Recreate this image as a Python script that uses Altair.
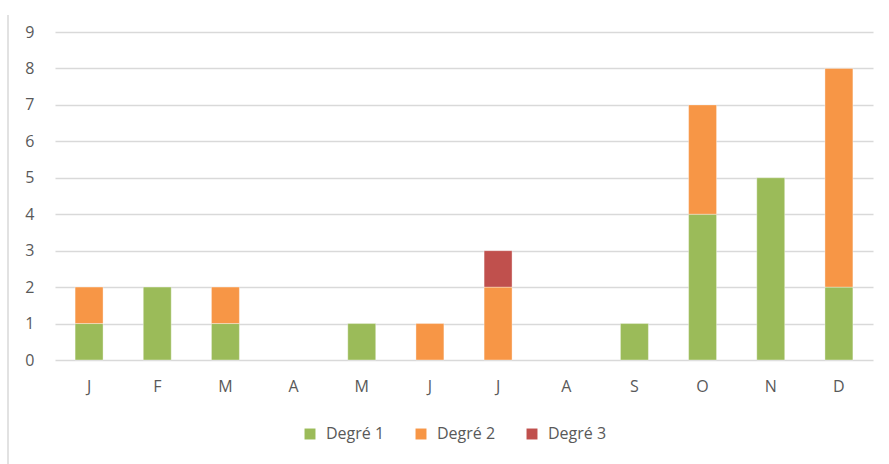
import altair as alt
import pandas as pd

months = ["J", "F", "M", "A", "M", "J", "J", "A", "S", "O", "N", "D"]
degre1 = [1, 2, 1, 0, 1, 0, 0, 0, 1, 4, 5, 2]
degre2 = [1, 0, 1, 0, 0, 1, 2, 0, 0, 3, 0, 6]
degre3 = [0, 0, 0, 0, 0, 0, 1, 0, 0, 0, 0, 0]
series = ["Degré 1", "Degré 2", "Degré 3"]
colors = ["#9BBB59", "#F79646", "#C0504D"]

rows = []
for i, m in enumerate(months):
    for k, (name, vals) in enumerate(zip(series, [degre1, degre2, degre3])):
        rows.append({"idx": i, "mois": m, "serie": name, "ordre": k, "val": vals[i]})
df = pd.DataFrame(rows)

label_expr = "[" + ",".join(f"'{m}'" for m in months) + "][datum.value]"

bars = alt.Chart(df).transform_filter("datum.val > 0").mark_bar(
    stroke="#ffffff", strokeWidth=0.6, strokeOpacity=0.6
).encode(
    x=alt.X("idx:O", sort=list(range(12)),
            scale=alt.Scale(domain=list(range(12)), paddingInner=0.59, paddingOuter=0.295),
            axis=alt.Axis(title=None, labelExpr=label_expr, labelAngle=0,
                          domain=False, ticks=False, labelPadding=18,
                          labelFont="Open Sans", labelFontSize=16, labelColor="#595959")),
    y=alt.Y("val:Q", stack="zero", scale=alt.Scale(domain=[0, 9], nice=False),
            axis=alt.Axis(title=None, values=list(range(10)), domain=False, ticks=False,
                          labelPadding=21, gridColor="#d9d9d9", gridWidth=1.3,
                          labelFont="Open Sans", labelFontSize=16, labelColor="#595959")),
    color=alt.Color("serie:N", scale=alt.Scale(domain=series, range=colors),
                    legend=alt.Legend(title=None, orient="none", legendX=247, legendY=394,
                                      direction="horizontal", symbolType="square",
                                      symbolSize=120, symbolStrokeWidth=0, labelOffset=8,
                                      labelFont="Open Sans", labelFontSize=16,
                                      labelColor="#595959", columnPadding=28)),
    order=alt.Order("ordre:Q"),
)

border = alt.Chart(pd.DataFrame({"a": [0]})).mark_rule(color="#d9d9d9", strokeWidth=1.5).encode(
    x=alt.value(-47), y=alt.value(-17), y2=alt.value(432)
)

chart = alt.layer(bars, border).properties(
    width=818, height=328,
    autosize=alt.AutoSizeParams(type="none"),
    padding={"left": 55, "top": 32, "right": 16, "bottom": 104},
).configure_view(stroke=None)

chart.save("out.html", embed_options={"renderer": "svg", "actions": False})
